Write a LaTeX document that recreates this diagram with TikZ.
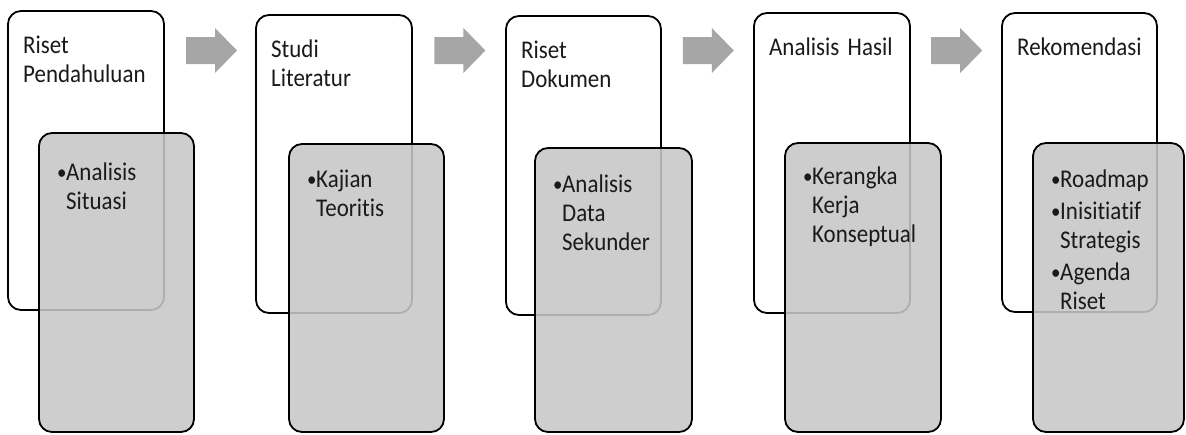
\documentclass[tikz,border=0pt]{standalone}
\usepackage{fontspec}
\setmainfont{Carlito}[FakeStretch=0.9, Ligatures=NoCommon]
\definecolor{graybg}{gray}{0.78}
\definecolor{arrowgray}{HTML}{A6A6A6}
\definecolor{txtcol}{HTML}{1A1A1A}
\newcommand\bul{\makebox[9pt][l]{\raisebox{0.5pt}{\fontsize{21}{21}\selectfont •}}}
\newcommand\ind{\hspace*{9pt}}
\tikzset{
  whitebox/.style={draw=black, line width=1.8pt, fill=white, rounded corners=13pt},
  graybox/.style={draw=black, line width=1.8pt, fill=graybg, fill opacity=0.88, rounded corners=13pt},
  blockarrow/.style={fill=arrowgray, draw=none},
  txt/.style={anchor=base west, inner sep=0pt, text width=150pt, align=left,
    text=txtcol, font=\fontsize{25.5}{29}\selectfont},
}
\begin{document}
\begin{tikzpicture}[x=1pt,y=-1pt]
\useasboundingbox (0,0) rectangle (1186,434);
% box 1
\draw[whitebox] (8,11) rectangle (164,310);
\node[txt] (t1) at (23,53) {Riset\\Pendahuluan};
\draw[graybox] (39,133) rectangle (194,432);
\node[txt] (c1) at (57,180) {\bul Analisis\\\ind Situasi};
% box 2
\draw[whitebox] (256,15) rectangle (412,313);
\node[txt] (t2) at (271,57) {Studi\\Literatur};
\draw[graybox] (289,144) rectangle (444,432);
\node[txt] (c2) at (307,187) {\bul Kajian\\\ind Teoritis};
% box 3
\draw[whitebox] (506,16) rectangle (661,315);
\node[txt] (t3) at (521,58) {Riset\\Dokumen};
\draw[graybox] (535,148) rectangle (692,432);
\node[txt] (c3) at (553,192) {\bul Analisis\\\ind Data\\\ind Sekunder};
% box 4
\draw[whitebox] (754,13) rectangle (910,313);
\node[txt] (t4) at (769,55) {Analisis Hasil};
\draw[graybox] (785,143) rectangle (941,432);
\node[txt] (c4) at (803,184) {\bul Kerangka\\\ind Kerja\\\ind Konseptual};
% box 5
\draw[whitebox] (1002,13) rectangle (1157,312);
\node[txt] (t5) at (1017,55) {Rekomendasi};
\draw[graybox] (1033,143) rectangle (1184,432);
\node[txt] (c5) at (1051,187) {\bul Roadmap\\[3pt]\bul Inisitiatif\\\ind Strategis\\[3pt]\bul Agenda\\\ind Riset};
% arrows
\foreach \i in {0,1,2,3} {
  \fill[blockarrow, xshift=248.4*\i] (186,37) -- (215,37) -- (215,28) -- (237,50.5)
     -- (215,73) -- (215,64) -- (186,64) -- cycle;
}
\end{tikzpicture}
\end{document}
